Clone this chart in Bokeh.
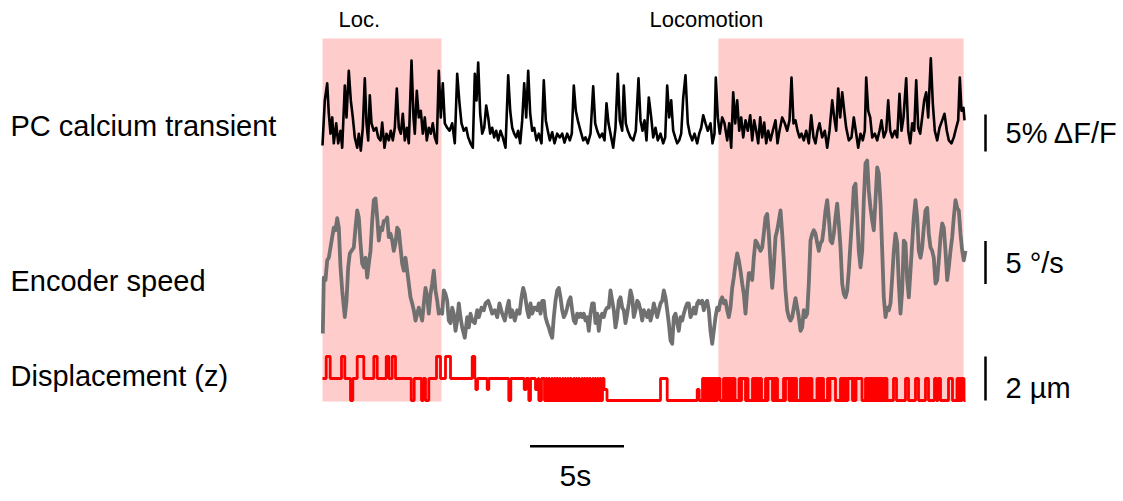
from bokeh.plotting import figure
from bokeh.models import Range1d, Label
from bokeh.embed import file_html
from bokeh.resources import INLINE
import numpy as np

# ---------------- data ----------------
FS = 18.8  # imaging frames per second (frame index -> seconds)

# locomotion periods (s)
loc_start_s = [0.0, 21.06]
loc_end_s = [6.33, 34.1]

# PC calcium transient (frame index, dF/F in %)
ca_frame = [
    0, 2.3, 4.7, 6.3, 8, 9.7, 11.3, 13.7, 15.7, 18,
    19.7, 22.3, 24, 26.3, 28.3, 30.3, 32.3, 34.7, 36.3, 38.3,
    40.3, 42.3, 44, 45.7, 47.3, 49, 51.3, 53.7, 55.7, 58,
    59.7, 62, 64, 66.3, 68.3, 70.3, 72.3, 74.3, 76.3, 78.3,
    80.3, 82.3, 84.3, 86.3, 89, 91, 92.3, 94.3, 96.3, 98.3,
    100.3, 102.3, 104.3, 106.3, 108.3, 110.3, 112.3, 114.3, 116.3, 118.3,
    120.3, 122.3, 124.7, 127, 129.7, 132.3, 134.7, 137, 139, 141.3,
    143.7, 145.7, 148, 150.3, 152.3, 154, 155.7, 157.7, 159.7, 161.7,
    163.7, 165.7, 167.7, 169.7, 171.7, 173.7, 175.7, 178, 180.3, 183,
    185.7, 187.7, 189.7, 191.7, 193.7, 195.7, 197.7, 199.7, 201.7, 203.7,
    205.7, 207.7, 209.7, 211.7, 214, 216.3, 219, 221.3, 223.3, 225.3,
    227.3, 229.7, 232, 234.7, 237.3, 239.7, 242, 244.7, 247.3, 249.3,
    251.3, 253.3, 255.3, 258, 260.7, 263, 265.3, 268, 270.7, 272.7,
    274.7, 277.3, 279.7, 282, 284, 286, 288, 290.7, 293, 295.3,
    297.3, 299.7, 301.3, 303.3, 305.3, 308, 310.7, 313.3, 316, 318,
    320, 322, 324, 326.3, 328.7, 330.7, 333, 335.3, 338, 340.7,
    342.7, 344.7, 346.7, 348.7, 350.7, 352.7, 354.7, 356.7, 358.7, 360.7,
    363, 365.3, 367.3, 369.7, 372, 374.7, 376.7, 378.7, 380.7, 383,
    385.3, 388, 390, 392, 393.3, 395.3, 397.3, 399.7, 402, 404.7,
    406.7, 408.7, 410.7, 412.7, 414.7, 416.7, 418.7, 420.7, 423, 425.3,
    427.7, 429.7, 431.7, 433.7, 435.7, 437.7, 439.7, 441.7, 443.7, 445.7,
    448, 450.3, 453, 455, 457, 459.7, 462.3, 464.7, 467, 469,
    471, 473, 475, 477, 479, 481.3, 483.7, 486.3, 488.7, 491,
    493, 495, 497, 499.7, 502.3, 504.7, 507, 509.7, 511.7, 513.7,
    515.7, 517.7, 519.7, 521.7, 523.7, 526.3, 529, 531.3, 533.7, 535.7,
    538, 540.3, 542.3, 543.7, 545.7, 547.7, 549.7, 552.3, 554.7, 557,
    559, 561.3, 563.7, 565.7, 567.7, 569.7, 572.3, 574.7, 577, 579,
    581, 583.7, 585.7, 587.7, 589.7, 591.7, 593.7, 595.7, 597.7, 599.7,
    601.7, 603.7, 605.7, 608.3, 610.3, 612.3, 614.7, 617, 619.7, 622,
    624.3, 626.3, 629, 631.3, 633.7, 635.7, 637.3, 639, 641, 642,
]
ca_pct = [
    0.4, 6.5, 8.8, 4.7, 2.0, 4.2, 0.7, 3.4, 0.7, 2.4,
    0.1, 8.5, 4.2, 10.5, 6.5, 4.2, 1.5, 0.1, 2.0, -0.3,
    2.8, 9.5, 3.4, 1.1, 7.2, 3.4, 2.4, 2.8, 1.5, 1.1,
    3.5, 0.1, 2.0, 1.1, 2.4, 1.1, 2.8, 8.1, 2.8, 2.0,
    4.7, 1.1, 2.8, 0.7, 11.9, 4.2, 2.0, 7.8, 4.2, 5.1,
    2.0, 4.2, 1.1, 2.8, 2.0, 3.4, 1.5, 0.7, 10.5, 4.2,
    8.8, 3.4, 2.8, 2.4, 3.4, 0.7, 10.1, 6.1, 3.4, 2.4,
    2.8, 1.5, 0.7, 0.1, 10.1, 6.5, 11.6, 4.7, 2.0, 2.8,
    5.8, 4.2, 2.0, 2.8, 1.5, 2.4, 1.1, 2.4, 1.5, 0.1,
    9.9, 5.1, 2.8, 2.0, 1.5, 2.4, 0.7, 3.8, 8.8, 4.2,
    10.5, 4.7, 2.4, 2.8, 1.1, 2.0, 0.7, 9.2, 3.8, 2.4,
    1.1, 2.2, 0.7, 2.0, 1.5, 2.0, 0.8, 2.0, 1.1, 2.0,
    8.5, 5.1, 3.8, 2.4, 1.1, 1.5, 0.7, 2.0, 8.4, 3.4,
    2.4, 1.5, 2.0, 1.1, 6.1, 3.4, 2.0, 0.1, 2.8, 10.1,
    3.8, 2.4, 8.5, 3.4, 2.4, 1.5, 1.1, 2.4, 9.5, 3.8,
    2.4, 3.8, 1.1, 6.9, 4.2, 1.5, 2.8, 1.1, 2.0, 0.7,
    1.5, 8.5, 4.2, 6.5, 2.4, 1.5, 0.7, 1.1, 2.0, 6.8,
    9.9, 3.4, 2.0, 1.1, 2.0, 0.7, 2.0, 2.8, 4.5, 3.4,
    2.4, 3.4, 0.7, 2.0, 9.6, 4.2, 2.0, 4.2, 3.4, 1.1,
    3.4, 0.1, 7.6, 3.4, 6.5, 2.4, 4.2, 1.5, 3.8, 2.4,
    4.5, 1.1, 3.8, 2.4, 0.7, 4.2, 1.5, 3.5, 0.7, 2.4,
    1.1, 2.4, 3.8, 0.7, 2.4, 4.2, 3.4, 2.4, 3.8, 9.6,
    3.4, 3.8, 2.4, 1.5, 2.0, 1.1, 2.4, 0.7, 4.5, 1.5,
    0.7, 2.4, 3.4, 1.5, 2.4, 0.1, 2.4, 6.5, 4.2, 2.4,
    8.1, 4.2, 7.6, 5.1, 2.8, 1.1, 1.5, 4.2, 2.0, 0.1,
    2.0, 1.1, 2.4, 9.6, 5.1, 4.2, 1.5, 2.0, 1.1, 2.4,
    3.8, 1.5, 2.4, 6.5, 2.4, 1.5, 2.4, 1.5, 7.4, 2.4,
    4.2, 9.5, 2.4, 0.7, 3.4, 2.4, 9.2, 2.8, 2.0, 4.2,
    6.5, 7.6, 4.2, 12.2, 6.1, 2.4, 1.1, 2.8, 3.8, 4.7,
    2.4, 1.1, 0.7, 1.5, 2.8, 3.8, 9.6, 5.1, 5.5, 3.8,
]

# Encoder speed (frame index, deg/s)
spd_frame = [
    0.3, 1.3, 3, 4.7, 6.3, 8, 9.7, 11.3, 13, 14.7,
    16.3, 18, 19.7, 22.3, 24, 25.7, 27.3, 29, 31.3, 33,
    34.7, 36.3, 38, 39.7, 41.3, 43, 44.7, 46.3, 48, 49.7,
    51.3, 53, 54.7, 56.3, 58, 59.7, 61.3, 63, 64.7, 66.3,
    68, 69.7, 71.3, 73, 74.7, 76.3, 78, 79.7, 81.3, 83,
    84.7, 86.3, 88, 89.7, 91.3, 93, 94.7, 96.3, 98, 99.7,
    101.3, 103, 104.7, 106.3, 108, 109.7, 111.3, 113, 114.7, 116.3,
    118, 119.7, 121.3, 123, 124.7, 126.3, 128, 129.7, 131.3, 133,
    134.7, 136.3, 138, 139.7, 142.3, 144.7, 146.3, 148, 149.7, 152.3,
    154.7, 156.3, 159, 161.3, 163, 165.7, 168, 169.7, 172.3, 174.7,
    177, 179.7, 182.3, 184.7, 186.3, 188, 189.7, 192.3, 194.7, 197,
    199, 200.7, 202.3, 204.7, 206.3, 208, 209.7, 211.7,
    213.0, 214.7, 216.3, 218.0, 219.7, 221.3, 223.0, 224.7, 226.3, 228.0,
    229.7, 231.3, 233.0, 234.7, 236.3, 238.0, 239.7, 241.3, 243.0, 244.7,
    246.3, 248.0, 249.7, 251.3, 253.0, 254.7, 256.3, 258.0, 259.7, 261.3,
    263.0, 264.7, 266.3, 268.0, 269.7, 271.3, 273.0, 274.7, 276.3, 278.0,
    279.7, 281.3, 283.0, 284.7, 286.3, 288.0, 289.7, 291.3, 293.0, 294.7,
    296.3, 298.0, 299.7, 301.3, 303.0, 304.7, 306.3, 308.0, 309.7, 311.3,
    313.0, 314.7, 316.3, 318.0, 319.7, 321.3, 323.0, 324.7, 326.3, 328.0,
    329.7, 331.3, 333.0, 334.7, 336.3, 338.0, 339.7, 341.3, 343.0, 344.7,
    346.3, 348.0, 349.7, 351.3, 353.0, 354.7, 356.3, 358.0, 359.7, 361.3,
    363.0, 364.7, 366.3, 368.0, 369.7, 371.3, 373.0, 374.7, 376.3, 378.0,
    379.7, 381.3, 383.0, 384.7, 386.3, 388.0, 389.7, 391.3, 393.0, 394.7,
    396.3, 398.0, 399.7, 401.3, 403.0, 404.7, 406.3, 408.0, 409.7, 411.3,
    413.0, 414.7, 416.3, 418.0, 419.7, 421.3, 423.0, 424.7, 426.3,
    428.0, 429.7, 431.3, 433.0, 434.7, 436.3, 438.0, 439.7, 441.3, 443.0,
    444.7, 446.3, 448.0, 449.7, 451.3, 453.0, 454.7, 456.3, 458.0, 459.7,
    461.3, 463.0, 464.7, 466.3, 468.0, 469.7, 471.3, 473.0, 474.7, 476.3,
    478.0, 479.7, 481.3, 483.0, 484.7, 486.3, 488.0, 489.7, 491.3, 493.0,
    494.7, 496.3, 498.0, 499.7, 501.3, 503.0, 504.7, 506.3, 508.0, 509.7,
    511.3, 513.0, 514.7, 516.3, 518.0, 519.7, 521.3, 523.0, 524.7, 526.3,
    528.0, 529.7, 531.3, 533.0, 534.7, 536.3, 538.0, 539.7, 541.3, 543.0,
    544.7, 546.3, 548.0, 549.7, 551.3, 553.0, 554.7, 556.3, 558.0, 559.7,
    561.3, 563.0, 564.7, 566.3, 568.0, 569.7, 571.3, 573.0, 574.7, 576.3,
    578.0, 579.7, 581.3, 583.0, 584.7, 586.3, 588.0, 589.7, 591.3, 593.0,
    594.7, 596.3, 598.0, 599.7, 601.3, 603.0, 604.7, 606.3, 608.0, 609.7,
    611.3, 613.0, 614.7, 616.3, 618.0, 619.7, 621.3, 623.0, 624.7, 626.3,
    628.0, 629.7, 631.3, 633.0, 634.7, 636.3, 638.0, 639.7, 641.3, 643.0,
]
spd_dps = [
    1.4, 7.9, 7.6, 9.9, 10.2, 11.4, 12.6, 13.7, 13.4, 14.8,
    13.7, 9.1, 6.4, 3.3, 5.2, 9.1, 10.7, 11.0, 11.4, 13.7,
    15.7, 14.9, 11.9, 9.5, 9.1, 10.2, 7.9, 9.5, 11.0, 14.5,
    16.9, 17.1, 14.9, 12.2, 13.7, 13.4, 14.5, 14.5, 14.9, 12.6,
    13.0, 12.2, 11.0, 11.9, 13.7, 13.4, 11.4, 9.5, 8.7, 10.2,
    8.7, 7.2, 5.6, 4.9, 4.1, 2.9, 3.7, 4.4, 3.7, 2.9,
    4.9, 6.7, 5.6, 3.7, 6.0, 7.2, 8.7, 6.4, 5.2, 3.7,
    4.1, 3.7, 6.4, 6.0, 5.2, 2.9, 2.6, 4.4, 3.7, 1.7,
    2.9, 4.9, 3.3, 2.1, 0.9, 3.3, 2.1, 3.7, 2.9, 2.6,
    4.1, 3.3, 4.4, 4.1, 4.9, 5.2, 4.4, 3.7, 4.1, 3.3,
    4.9, 3.7, 2.9, 4.4, 5.2, 3.3, 4.1, 2.9, 4.1, 3.7,
    5.6, 6.7, 6.0, 4.1, 3.3, 4.9, 3.7, 4.4,
    4.4, 4.1, 4.9, 3.7, 5.2, 5.2, 3.3, 2.6, 2.1, 1.4,
    0.9, 3.3, 5.2, 6.4, 6.7, 5.6, 4.1, 3.3, 3.7, 4.4,
    5.2, 5.6, 4.1, 2.9, 2.6, 3.7, 3.3, 3.7, 3.3, 3.7,
    2.9, 3.3, 1.7, 3.7, 4.9, 4.9, 2.6, 3.7, 1.7, 3.3,
    3.7, 3.3, 4.1, 4.4, 4.4, 6.4, 5.2, 4.1, 2.1, 3.3,
    5.2, 5.6, 4.4, 4.1, 2.6, 3.7, 4.9, 6.4, 5.6, 3.3,
    4.1, 5.2, 4.9, 4.1, 2.9, 4.1, 3.7, 3.3, 4.1, 2.9,
    3.7, 4.9, 4.1, 3.3, 4.1, 4.9, 5.2, 6.4, 5.6, 4.1,
    2.6, 0.6, 0.2, 3.3, 3.7, 2.6, 1.7, 3.3, 2.9, 3.7,
    4.4, 4.9, 4.9, 3.3, 3.7, 4.4, 3.7, 4.9, 5.2, 4.9,
    5.2, 4.1, 4.9, 5.2, 4.1, 1.7, 0.2, 1.7, 3.3, 4.4,
    4.1, 5.2, 5.6, 4.9, 5.2, 4.1, 3.3, 4.4, 6.7, 7.9,
    9.5, 10.7, 9.9, 8.7, 7.2, 6.0, 3.7, 6.4, 8.4,
    8.4, 7.6, 10.2, 12.2, 11.9, 11.4, 11.0, 11.4, 13.0, 14.9,
    15.3, 13.0, 9.5, 6.7, 9.1, 12.6, 13.4, 14.5, 15.7, 13.0,
    9.9, 6.4, 4.1, 3.3, 2.9, 3.3, 4.4, 5.5, 4.4, 3.3,
    1.7, 2.1, 4.1, 3.3, 3.7, 7.2, 12.2, 13.0, 13.4, 13.0,
    11.9, 11.0, 11.9, 12.2, 13.7, 15.7, 16.9, 14.9, 12.2, 11.9,
    13.0, 14.9, 16.5, 14.2, 11.4, 7.2, 6.0, 5.6, 6.4, 8.7,
    11.9, 14.9, 18.4, 18.8, 14.9, 11.0, 9.1, 11.0, 16.9, 21.2,
    21.5, 18.0, 16.0, 14.5, 13.4, 16.9, 20.7, 20.0, 16.5, 11.0,
    5.6, 3.3, 4.4, 4.1, 4.9, 7.9, 11.0, 13.0, 11.9, 7.2,
    3.7, 6.4, 12.2, 11.9, 7.6, 5.6, 8.7, 11.9, 14.9, 16.9,
    14.9, 11.0, 10.2, 11.4, 13.7, 15.7, 16.0, 13.0, 11.4, 11.0,
    10.2, 7.2, 7.6, 9.9, 12.6, 14.2, 13.7, 11.0, 7.6, 9.1,
    11.0, 12.6, 14.9, 16.9, 16.0, 15.7, 13.0, 11.0, 9.9, 11.0,
]

# Displacement (z): step changes (frame index, level in um)
dz_frame = [
    0, 3.7, 7.7, 19, 22.3, 28, 30.3, 34.7, 41.3, 51.3,
    54.7, 63.7, 66.3, 69.7, 73, 88.7, 91.7, 99, 100.7, 103,
    106.3, 114, 118, 123, 128, 149.7, 152.3, 153.3, 155, 164.7,
    166.3, 186.3, 188.3, 201.7, 203.7, 206.3, 208, 213, 215.7, 216.3,
    219,
    222, 223.5, 224.5, 226, 227, 229, 230, 231.5, 232.5, 234,
    235.5, 237, 238, 240, 241, 242.5, 243.5, 245, 246, 247.5,
    249, 251, 252, 253.5, 254.5, 256, 257, 259, 260, 261.5,
    262.5, 264, 265, 266.5, 268, 270, 271, 272.5, 273.5, 275,
    276, 277.5, 278.5, 280, 281.5, 284.5,
    338, 344.7, 374.7, 376.7,
    380, 381.5, 382.5, 384, 385, 386.5, 387.5, 389, 390, 391.5,
    392.5, 394, 395, 397.5, 401, 402.5, 403.5, 405, 406, 407.5,
    408.5, 410, 411, 412.5, 416.5, 418, 419, 423, 424, 425.5,
    430, 431.5, 432.5, 434, 435, 436.5, 437.5, 439, 443, 444.5,
    445.5, 450, 451, 452.5, 453.5, 455, 461, 462, 463, 466.5,
    467.5, 469, 470, 471.5, 472.5, 474, 478, 479.5, 480.5, 482,
    483, 484.5, 485.5, 487, 488, 489.5, 494.5, 496, 497, 498.5,
    499.5, 501, 505, 506.5, 507.5, 513, 518, 519.5, 520.5, 522,
    523, 524.5, 525.5, 530, 531, 532.5, 533.5, 539.5, 543, 544.5,
    545.5, 547, 548, 549.5, 550.5, 552, 553, 554.5, 555.5, 557,
    558, 559.5, 560.5, 562, 563, 564.5, 571, 574, 583, 586,
    593, 596, 603, 606, 612, 614, 615.5, 618, 626, 630,
    634.5, 636, 637, 638.5, 639.5, 641.5,
    643,
]
dz_um = [
    1, 2, 1, 2, 1, 0, 1, 2, 1, 2,
    1, 2, 1, 2, 1, 0, 1, 0, 1, 0,
    1, 2, 1, 2, 1, 2, 1, 0.5, 1, 0.5,
    1, 0, 1, 0.5, 1, 0, 1, 0.5, 1, 0,
    1,
    0, 1, 0, 1, 0, 1, 0, 1, 0, 1,
    0, 1, 0, 1, 0, 1, 0, 1, 0, 1,
    0, 1, 0, 1, 0, 1, 0, 1, 0, 1,
    0, 1, 0, 1, 0, 1, 0, 1, 0, 1,
    0, 1, 0, 1, 0.5, 0,
    1, 0, 0.5, 0,
    1, 0, 1, 0, 1, 0, 1, 0, 1, 0,
    1, 0, 1, 0, 1, 0, 1, 0, 1, 0,
    1, 0, 1, 0, 1, 0, 1, 0, 1, 0,
    1, 0, 1, 0, 1, 0, 1, 0, 1, 0,
    1, 0, 1, 0, 1, 0, 1, 0, 1, 0,
    1, 0, 1, 0, 1, 0, 1, 0, 1, 0,
    1, 0, 1, 0, 1, 0, 1, 0, 1, 0,
    1, 0, 1, 0, 1, 0, 1, 0, 1, 0,
    1, 0, 1, 0, 1, 0, 1, 0, 1, 0,
    1, 0, 1, 0, 1, 0, 1, 0, 1, 0,
    1, 0, 1, 0, 1, 0, 1, 0, 1, 0,
    1, 0, 1, 0, 1, 0, 1, 0, 1, 0,
    1, 0, 1, 0, 1, 0,
    0,
]

# scale bars
time_bar_s = 5
ca_bar_pct = 5
spd_bar_dps = 5
dz_bar_um = 2

assert len(ca_frame) == len(ca_pct)
assert len(spd_frame) == len(spd_dps)
assert len(dz_frame) == len(dz_um), (len(dz_frame), len(dz_um))

# ---------------- layout (page pixels) ----------------
W, H = 1123, 501
PAGE_L, PAGE_T = 0, 0
PAGE_B = PAGE_T + H
X0_PX = 322           # page x of t = 0
PX_PER_S = 18.8

CA_ZERO_PX, CA_PX = 148, 7.4
SPD_ZERO_PX, SPD_PX = 345, 8.6
DZ_ZERO_PX, DZ_PX = 400, 22.0


def yr(zero_px, px_per):
    return Range1d(start=(zero_px - PAGE_B) / px_per, end=(zero_px - PAGE_T) / px_per)


p = figure(
    width=W, height=H, output_backend="svg", toolbar_location=None,
    x_range=Range1d((PAGE_L - X0_PX) / PX_PER_S, (PAGE_L + W - X0_PX) / PX_PER_S),
    y_range=Range1d(PAGE_B, PAGE_T),
    x_axis_location=None, y_axis_location=None, min_border=0,
)
p.extra_x_ranges = {"page": Range1d(PAGE_L, PAGE_L + W)}
p.extra_y_ranges = {"ca": yr(CA_ZERO_PX, CA_PX), "spd": yr(SPD_ZERO_PX, SPD_PX),
                    "dz": yr(DZ_ZERO_PX, DZ_PX)}
p.grid.visible = False
p.outline_line_color = None
p.background_fill_color = "white"
p.border_fill_color = "white"

# shaded locomotion periods
p.quad(left=loc_start_s, right=loc_end_s, top=[38] * len(loc_start_s),
       bottom=[401] * len(loc_start_s), fill_color="#ffcccc", line_color=None)

ca_t = np.array(ca_frame) / FS
spd_t = np.array(spd_frame) / FS
dz_t = np.array(dz_frame) / FS

p.line(ca_t, ca_pct, y_range_name="ca", line_color="black", line_width=2.6,
       line_join="round")
p.line(spd_t, spd_dps, y_range_name="spd", line_color="#707070", line_width=3.8,
       line_join="round")
p.step(dz_t, dz_um, mode="after", y_range_name="dz", line_color="#ff0000",
       line_width=2.8)

# vertical scale bars
bar_t = (985 - X0_PX) / PX_PER_S
p.segment(x0=[bar_t], x1=[bar_t], y0=[2.1 - ca_bar_pct / 2], y1=[2.1 + ca_bar_pct / 2],
          y_range_name="ca", line_color="black", line_width=2.5)
p.segment(x0=[bar_t], x1=[bar_t], y0=[9.65 - spd_bar_dps / 2], y1=[9.65 + spd_bar_dps / 2],
          y_range_name="spd", line_color="black", line_width=2.5)
p.segment(x0=[bar_t], x1=[bar_t], y0=[0], y1=[dz_bar_um],
          y_range_name="dz", line_color="black", line_width=2.5)
# time scale bar
tb0 = (529.5 - X0_PX) / PX_PER_S
p.segment(x0=[tb0], x1=[tb0 + time_bar_s], y0=[445.7], y1=[445.7],
          line_color="black", line_width=2.5)

FONT = "Liberation Sans"


def lab(x, y, text, size):
    p.add_layout(Label(x=x, y=y, x_range_name="page", text=text, text_font=FONT,
                       text_font_size=size, text_color="black",
                       text_baseline="middle", text_align="left"))


lab(10, 125, "PC calcium transient", "29px")
lab(10, 280.5, "Encoder speed", "29px")
lab(10, 375.5, "Displacement (z)", "29px")
lab(1005, 132, "5% \u0394F/F", "29px")
lab(1005, 262, "5 \u00b0/s", "29px")
lab(1005, 387, "2 \u00b5m", "29px")
lab(338, 19, "Loc.", "22px")
lab(649, 19, "Locomotion", "22px")
lab(559, 475, "5s", "30px")

open("out.html", "w").write(file_html(p, INLINE))
